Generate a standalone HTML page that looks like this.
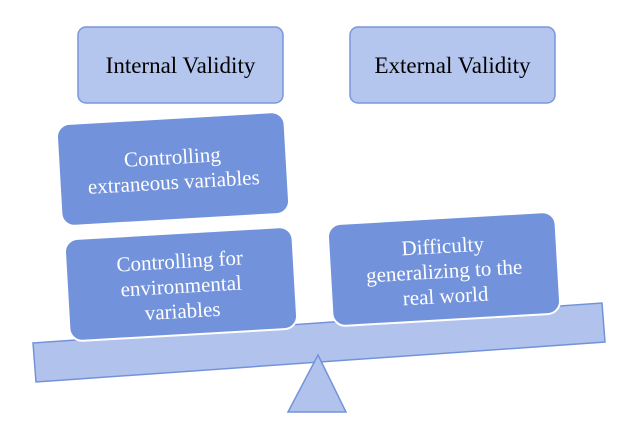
<!DOCTYPE html>
<html><head><style>body{margin:0;background:#fff}svg{display:block}</style></head>
<body>
<svg width="617" height="427" viewBox="0 0 617 427" xmlns="http://www.w3.org/2000/svg">
<g style="font-family:'Liberation Serif','Times New Roman',Times,'DejaVu Serif','Noto Serif CJK SC',serif">
<rect x="78" y="27" width="205" height="76" rx="8" fill="#b4c5ee" stroke="#7a97dc" stroke-width="1.5"/>
<rect x="350" y="27" width="205" height="76" rx="8" fill="#b4c5ee" stroke="#7a97dc" stroke-width="1.5"/>
<text x="180.5" y="73" font-size="23" text-anchor="middle" fill="#000">Internal Validity</text>
<text x="452.5" y="73" font-size="23" text-anchor="middle" fill="#000">External Validity</text>
<polygon points="33,343 602,303 605,342 36,382" fill="#b1c3ec" stroke="#7393d9" stroke-width="1.5"/>
<polygon points="318,355 346,412 288,412" fill="#b1c3ec" stroke="#7393d9" stroke-width="1.5"/>
<g transform="translate(173,169) rotate(-3.3)">
<rect x="-114" y="-51" width="228" height="102" rx="13" fill="#7293db" stroke="#fff" stroke-width="2"/>
<text y="-5" font-size="21" text-anchor="middle" fill="#fff">Controlling</text>
<text y="20" font-size="21" text-anchor="middle" fill="#fff">extraneous variables</text>
</g>
<g transform="translate(181,284) rotate(-3.3)">
<rect x="-114" y="-51" width="228" height="102" rx="13" fill="#7293db" stroke="#fff" stroke-width="2"/>
<text y="-16" font-size="21" text-anchor="middle" fill="#fff">Controlling for</text>
<text y="9" font-size="21" text-anchor="middle" fill="#fff">environmental</text>
<text y="34" font-size="21" text-anchor="middle" fill="#fff">variables</text>
</g>
<g transform="translate(444,269) rotate(-3.3)">
<rect x="-114" y="-51" width="228" height="102" rx="13" fill="#7293db" stroke="#fff" stroke-width="2"/>
<text y="-16" font-size="21" text-anchor="middle" fill="#fff">Difficulty</text>
<text y="9" font-size="21" text-anchor="middle" fill="#fff">generalizing to the</text>
<text y="34" font-size="21" text-anchor="middle" fill="#fff">real world</text>
</g>
</g>
</svg>
</body></html>
